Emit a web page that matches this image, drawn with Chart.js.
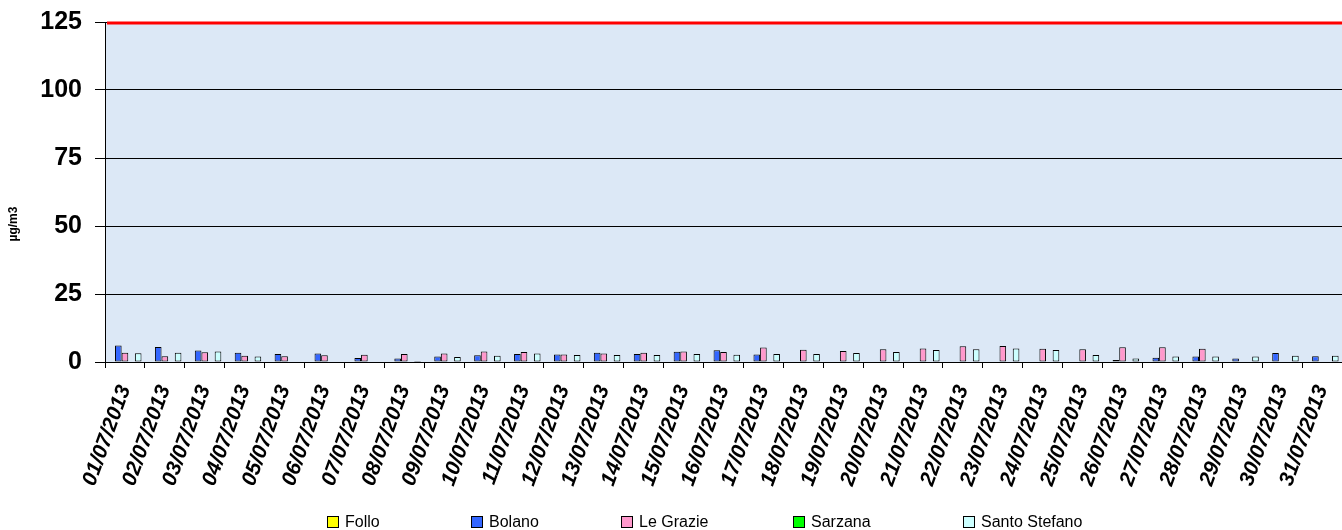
<!DOCTYPE html>
<html>
<head>
<meta charset="utf-8">
<script src="https://cdn.jsdelivr.net/npm/chart.js@4.4.1/dist/chart.umd.min.js"></script>
<style>
    body { margin: 0; background: #ffffff; }
    #contenedor { position: relative; width: 1342px; height: 530px; }
    #leyenda { position: absolute; left: 0; top: 0; width: 1342px; height: 530px; pointer-events: none; }
    .item { position: absolute; top: 513px; font: 16px "Liberation Sans", Arial, sans-serif; color: #000; white-space: nowrap; }
    .item span.caja { display: inline-block; width: 10px; height: 10px; border: 1px solid #000; margin-right: 6px; vertical-align: -1px; }
</style>
</head>
<body>
<div id="contenedor">
    <canvas id="graficoLuglio" width="1342" height="530"></canvas>
    <div id="leyenda"></div>
</div>
<script>
var fechas = ['01/07/2013', '02/07/2013', '03/07/2013', '04/07/2013', '05/07/2013', '06/07/2013', '07/07/2013', '08/07/2013',
    '09/07/2013', '10/07/2013', '11/07/2013', '12/07/2013', '13/07/2013', '14/07/2013', '15/07/2013', '16/07/2013',
    '17/07/2013', '18/07/2013', '19/07/2013', '20/07/2013', '21/07/2013', '22/07/2013', '23/07/2013', '24/07/2013',
    '25/07/2013', '26/07/2013', '27/07/2013', '28/07/2013', '29/07/2013', '30/07/2013', '31/07/2013'];

var estaciones = ['Follo', 'Bolano', 'Le Grazie', 'Sarzana', 'Santo Stefano'];
var colores = ['#ffff00', '#3366ff', '#ff99cc', '#00ff00', '#ccffff'];

var follo = [null, null, null, null, null, null, null, null, null, null, null, null, null, null, null, null,
    null, null, null, null, null, null, null, null, null, null, null, null, null, null, null];
var bolano = [6.1, 5.5, 4.2, 3.4, 2.9, 3.1, 1.5, 1.3, 2.0, 2.5, 2.9, 2.8, 3.4, 2.9, 3.8, 4.3,
    2.8, null, null, null, null, null, null, null, null, 0.7, 1.6, 2.0, 1.3, 3.3, 2.1];
var leGrazie = [3.4, 2.1, 3.6, 2.3, 2.1, 2.5, 2.7, 2.9, 3.1, 3.9, 3.7, 2.8, 3.1, 3.4, 3.9, 3.7,
    5.3, 4.5, 4.0, 4.7, 5.0, 5.8, 5.9, 4.9, 4.7, 5.4, 5.4, 4.9, null, null, null];
var sarzana = [null, null, null, null, null, null, null, null, null, null, null, null, null, null, null, null,
    null, null, null, null, null, null, null, null, null, null, null, null, null, null, null];
var santoStefano = [3.2, 3.4, 3.9, 2.0, null, 0.2, null, 0.4, 1.8, 2.3, 3.1, 2.6, 2.6, 2.6, 2.9, 2.7,
    2.9, 2.9, 3.3, 3.7, 4.4, 4.7, 5.0, 4.4, 2.6, 1.3, 2.0, 2.0, 2.0, 2.3, 2.3];

var ticksY = [0, 25, 50, 75, 100, 125];
var valorLimite = 125;

var fuente = '"Liberation Sans", Arial, sans-serif';

// fondo celeste del area del grafico
const fondoArea = {
    id: 'fondoArea',
    beforeDraw(chart) {
        const { ctx, chartArea } = chart;
        ctx.save();
        ctx.fillStyle = '#dce8f6';
        ctx.fillRect(chartArea.left, chartArea.top, chartArea.right - chartArea.left, chartArea.bottom - chartArea.top);
        ctx.restore();
    }
};

// linea roja del valor limite y titulo del eje
const extras = {
    id: 'extras',
    afterDraw(chart) {
        const { ctx, chartArea } = chart;
        const y = chart.scales.y.getPixelForValue(valorLimite);
        ctx.save();
        ctx.strokeStyle = '#ff0000';
        ctx.lineWidth = 3;
        ctx.beginPath();
        ctx.moveTo(chartArea.left + 2, y + 1);
        ctx.lineTo(chartArea.right, y + 1);
        ctx.stroke();

        ctx.translate(14, 224);
        ctx.rotate(-Math.PI / 2);
        ctx.fillStyle = '#000';
        ctx.font = 'bold 12px ' + fuente;
        ctx.textAlign = 'center';
        ctx.textBaseline = 'middle';
        ctx.fillText('\u00b5g/m3', 0, 0);
        ctx.restore();
    }
};

var series = [follo, bolano, leGrazie, sarzana, santoStefano];

const ctx = document.getElementById('graficoLuglio').getContext('2d');
var miGrafico = new Chart(ctx, {
    type: 'bar',
    data: {
        labels: fechas,
        datasets: estaciones.map((nombre, i) => ({
            label: nombre,
            data: series[i],
            backgroundColor: colores[i],
            borderColor: '#000000',
            borderWidth: 1,
            borderSkipped: false,
            categoryPercentage: 0.83,
            barPercentage: 1
        }))
    },
    options: {
        responsive: false,
        animation: false,
        layout: { padding: { top: 22, right: 0, left: 0, bottom: 0 } },
        scales: {
            x: {
                grid: { display: true, drawOnChartArea: false, offset: true, color: '#000', tickLength: 6 },
                border: { color: '#000', width: 1 },
                ticks: {
                    color: '#000',
                    font: { family: fuente, size: 21, weight: 'bold', style: 'italic' },
                    minRotation: 70,
                    maxRotation: 70,
                    autoSkip: false,
                    padding: 14
                },
                afterFit: scale => {
                    scale.height = 168;
                    scale.paddingLeft = 0;
                    scale.paddingRight = 0;
                }
            },
            y: {
                min: 0,
                max: 125,
                afterBuildTicks: axis => { axis.ticks = ticksY.map(v => ({ value: v })); },
                grid: { color: '#000', tickLength: 10, lineWidth: 1 },
                border: { color: '#000', width: 1 },
                ticks: {
                    color: '#000',
                    font: { family: fuente, size: 25, weight: 'bold' },
                    padding: 13
                },
                afterFit: scale => {
                    scale.width = 105;
                    scale.paddingTop = 0;
                    scale.paddingBottom = 0;
                }
            }
        },
        plugins: {
            legend: { display: false },
            tooltip: { enabled: false }
        }
    },
    plugins: [fondoArea, extras]
});

// leyenda en HTML
var posicionesLeyenda = [327, 471, 621, 793, 963];
var leyenda = document.getElementById('leyenda');
miGrafico.data.datasets.forEach((ds, i) => {
    var item = document.createElement('div');
    item.className = 'item';
    item.style.left = posicionesLeyenda[i] + 'px';
    item.innerHTML = '<span class="caja" style="background:' + ds.backgroundColor + '"></span>' + ds.label;
    leyenda.appendChild(item);
});
</script>
</body>
</html>
